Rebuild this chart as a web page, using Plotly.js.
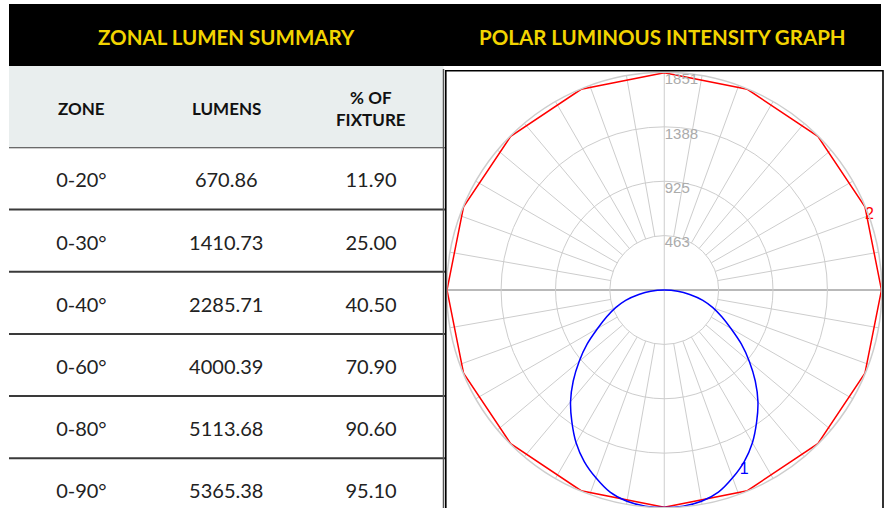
<!DOCTYPE html>
<html><head><meta charset="utf-8">
<script src="https://cdn.plot.ly/plotly-3.0.1.min.js"></script>
<style>html,body{margin:0;padding:0;background:#fff;} #chart{width:889px;height:508px;}</style>
</head><body><div id="chart"></div>
<script>
// ---------- Table data ----------
const tableTitle = 'ZONAL LUMEN SUMMARY';
const polarTitle = 'POLAR LUMINOUS INTENSITY GRAPH';
const headers = ['ZONE', 'LUMENS', '% OF<br>FIXTURE'];
const zones = ['0-20°', '0-30°', '0-40°', '0-60°', '0-80°', '0-90°'];
const lumens = ['670.86', '1410.73', '2285.71', '4000.39', '5113.68', '5365.38'];
const pctFixture = ['11.90', '25.00', '40.50', '70.90', '90.60', '95.10'];

// ---------- Polar data ----------
const ringValues = [463, 925, 1388, 1851];
const ringLabels = ['463', '925', '1388', '1851'];
// curve 1 (vertical plane), gamma angles, 0 = nadir
const verticalAngles = [-90,-85,-80,-75,-70,-65,-60,-55,-50,-45,-40,-35,-30,-25,-20,-15,-10,-5,
                         0,5,10,15,20,25,30,35,40,45,50,55,60,65,70,75,80,85,90];
const verticalCandela = [0,115,220,340,440,540,655,800,945,1095,1240,1370,1500,1610,1700,1780,1825,1846,
                         1851,1846,1825,1780,1700,1610,1500,1370,1240,1095,945,800,655,540,440,340,220,115,0];
// curve 2 (cone at max), horizontal angles
const horizontalAngles = [0,22.5,45,67.5,90,112.5,135,157.5,180,202.5,225,247.5,270,292.5,315,337.5,360];
const horizontalCandela = [1848,1848,1848,1848,1848,1848,1848,1848,1848,1848,1848,1848,1848,1848,1848,1848,1848];
const curveNames = ['1', '2'];
const curve1LabelAngle = 25;
const curve2LabelAngle = 112.5;

// ---------- Layout helpers ----------
const W = 889, H = 508;
const px = x => x / W;
const py = y => 1 - y / H;
const TABLE_LEFT = 9, TABLE_RIGHT = 443.5, HEADER_BOTTOM = 147.3;
const FONT = 'Lato, "Open Sans", sans-serif';
const R_MAX = 1851;           // outer ring value
const POLAR_RADIUS_PX = 217.6;
const LABEL_DROP_PX = 7;      // ring labels sit just below their ring
const labelOffset = LABEL_DROP_PX * R_MAX / POLAR_RADIUS_PX;

const tableX = [], tableY = [], tableText = [];
[zones, lumens, pctFixture].forEach((col, ci) => col.forEach((v, ri) => {
  tableX.push(ci); tableY.push(ri); tableText.push(v);
}));

const i1 = verticalAngles.indexOf(curve1LabelAngle);
const i2 = horizontalAngles.indexOf(curve2LabelAngle);

const traces = [
  {type: 'scatter', mode: 'text', x: tableX, y: tableY, text: tableText,
   textposition: 'middle center', cliponaxis: false,
   textfont: {family: FONT, size: 20, color: '#222222'},
   xaxis: 'x', yaxis: 'y2', hoverinfo: 'skip', showlegend: false},
  {type: 'scatterpolar', subplot: 'polar', r: [], theta: [], hoverinfo: 'skip', showlegend: false},
  {type: 'scatterpolar', subplot: 'polar2', r: [], theta: [], hoverinfo: 'skip', showlegend: false},
  {type: 'scatterpolar', subplot: 'polar4', r: [], theta: [], hoverinfo: 'skip', showlegend: false},
  {type: 'scatterpolar', subplot: 'polar3', mode: 'lines',
   r: horizontalCandela, theta: horizontalAngles,
   line: {color: '#ff0000', width: 1.5}, hoverinfo: 'skip', showlegend: false},
  {type: 'scatterpolar', subplot: 'polar3', mode: 'lines',
   r: verticalCandela, theta: verticalAngles,
   line: {color: '#0000ff', width: 1.5, shape: 'spline'}, hoverinfo: 'skip', showlegend: false},
  {type: 'scatterpolar', subplot: 'polar3', mode: 'text',
   r: [horizontalCandela[i2]], theta: [horizontalAngles[i2]], text: [curveNames[1]],
   textposition: 'bottom right', textfont: {family: 'Liberation Sans', size: 16, color: '#ff0000'},
   hoverinfo: 'skip', showlegend: false, cliponaxis: false},
  {type: 'scatterpolar', subplot: 'polar3', mode: 'text',
   r: [verticalCandela[i1]], theta: [verticalAngles[i1]], text: [curveNames[0]],
   textposition: 'bottom center', textfont: {family: 'Liberation Sans', size: 16, color: '#0000ff'},
   hoverinfo: 'skip', showlegend: false, cliponaxis: false}
];

const polarDomain = {x: [px(446.5), px(882)], y: [py(507.6), py(72.4)]};
const fineGrid = [];
for (let a = 0; a < 360; a += 10) if (a % 90 !== 0) fineGrid.push(a);
const GRID = '#cdcdcd';
const hiddenRadial = {showgrid: false, showline: false, showticklabels: false, ticks: ''};
const hiddenAngular = {rotation: 270, direction: 'counterclockwise', showgrid: false, showline: false,
                       showticklabels: false, ticks: ''};

const shapes = [];
// black title band
shapes.push({type: 'rect', xref: 'paper', yref: 'paper', x0: px(TABLE_LEFT), x1: px(881), y0: py(66), y1: py(4),
             fillcolor: '#000000', line: {width: 0}, layer: 'below'});
// gray table header row
shapes.push({type: 'rect', xref: 'paper', yref: 'paper', x0: px(TABLE_LEFT), x1: px(TABLE_RIGHT), y0: py(HEADER_BOTTOM), y1: py(66),
             fillcolor: '#e9eeee', line: {width: 0}, layer: 'below'});
// row separators (data coords on hidden y axis)
for (let i = -0.5; i < zones.length - 1; i += 1) {
  shapes.push({type: 'line', xref: 'paper', yref: 'y', x0: px(TABLE_LEFT), x1: px(445), y0: i, y1: i,
               line: {color: '#3a3a3a', width: 2}});
}
// table right border
shapes.push({type: 'line', xref: 'paper', yref: 'paper', x0: px(TABLE_RIGHT), x1: px(TABLE_RIGHT), y0: py(512), y1: py(69),
             line: {color: '#555555', width: 1.5}});
// polar frame
shapes.push({type: 'rect', xref: 'paper', yref: 'paper', x0: px(445.8), x1: px(883), y0: py(515), y1: py(70.8),
             line: {color: '#000000', width: 1.6}});

const titleFont = {family: FONT, size: 20.5, color: '#f2d400', weight: 'bold'};
const annotations = [
  {text: tableTitle, xref: 'paper', yref: 'paper', x: px(226), y: py(37), xanchor: 'center', yanchor: 'middle',
   showarrow: false, font: titleFont},
  {text: polarTitle, xref: 'paper', yref: 'paper', x: px(662), y: py(37), xanchor: 'center', yanchor: 'middle',
   showarrow: false, font: titleFont}
];
headers.forEach((h, i) => annotations.push({
  text: h, xref: 'x', yref: 'paper', x: i, y: py(108), xanchor: 'center', yanchor: 'middle', showarrow: false,
  font: {family: FONT, size: 17, color: '#111111', weight: 'bold'}
}));

const ROW_PX = 62.2;
const layout = {
  width: W, height: H, margin: {l: 0, r: 0, t: 0, b: 0},
  paper_bgcolor: '#ffffff', plot_bgcolor: 'rgba(0,0,0,0)', showlegend: false,
  xaxis: {domain: [px(TABLE_LEFT), px(TABLE_RIGHT)], range: [-0.5, 2.5], visible: false, fixedrange: true},
  yaxis: {domain: [0, py(HEADER_BOTTOM)], range: [-0.5 + (H - HEADER_BOTTOM) / ROW_PX, -0.5], visible: false, fixedrange: true},
  yaxis2: {domain: [0, py(HEADER_BOTTOM + 4)], range: [-0.5 + (H - HEADER_BOTTOM - 4) / ROW_PX, -0.5],
           visible: false, fixedrange: true, anchor: 'x'},
  polar: {
    domain: polarDomain, hole: 0.25, bgcolor: '#ffffff',
    radialaxis: Object.assign({range: [463, R_MAX]}, hiddenRadial),
    angularaxis: {rotation: 270, direction: 'counterclockwise', tickmode: 'array', tickvals: fineGrid,
                  showgrid: true, gridcolor: GRID, gridwidth: 1, showline: false, showticklabels: false, ticks: ''}
  },
  polar2: {
    domain: polarDomain, bgcolor: 'rgba(0,0,0,0)',
    radialaxis: Object.assign({range: [0, R_MAX]}, hiddenRadial),
    angularaxis: {rotation: 270, direction: 'counterclockwise', tickmode: 'array', tickvals: [90, 270],
                  showgrid: true, gridcolor: '#b9b9b9', gridwidth: 2, showline: false, showticklabels: false, ticks: ''}
  },
  polar4: {
    domain: polarDomain, bgcolor: 'rgba(0,0,0,0)',
    radialaxis: {range: [labelOffset, R_MAX + labelOffset], tickmode: 'array', tickvals: ringValues, ticktext: ringLabels,
                 angle: 90, side: 'clockwise', tickangle: 90, ticklabelstandoff: 1,
                 showline: false, ticks: '', showgrid: false,
                 tickfont: {family: 'Liberation Sans', size: 15, color: '#ababab'}},
    angularaxis: hiddenAngular
  },
  polar3: {
    domain: polarDomain, bgcolor: 'rgba(0,0,0,0)',
    radialaxis: {range: [0, R_MAX], tickmode: 'array', tickvals: ringValues,
                 showticklabels: false, showline: false, ticks: '',
                 showgrid: true, gridcolor: GRID, gridwidth: 1},
    angularaxis: {rotation: 270, direction: 'counterclockwise', tickmode: 'array', tickvals: [0, 180],
                  showgrid: true, gridcolor: GRID, gridwidth: 1, showline: true, linecolor: GRID, linewidth: 1.5,
                  showticklabels: false, ticks: ''}
  },
  shapes: shapes,
  annotations: annotations
};

Plotly.newPlot('chart', traces, layout, {staticPlot: true, displayModeBar: false});
</script>
</body></html>
